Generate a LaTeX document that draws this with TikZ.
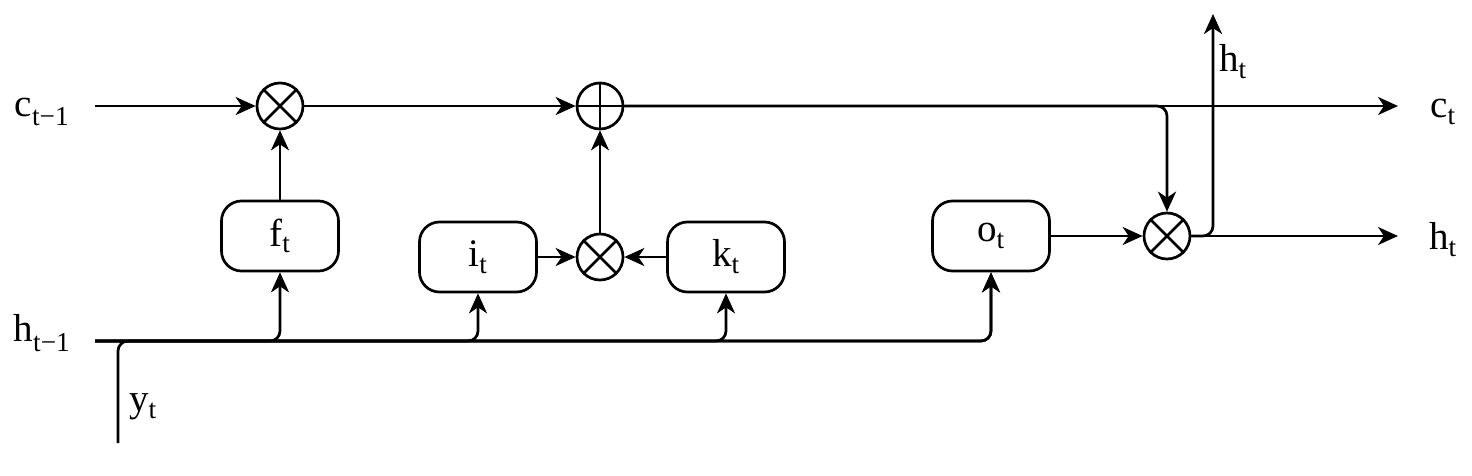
\documentclass[tikz,border=0pt]{standalone}
\usepackage{fontspec}
\setmainfont{Liberation Serif}
\newfontfamily\tnr{Liberation Serif}
\usetikzlibrary{arrows.meta}
\tikzset{
  x=1pt, y=-1pt,
  wire/.style={line width=2.7pt, rounded corners=10pt},
  arr/.style={wire, -{Stealth[length=20pt, width=18pt, inset=6pt]}},
  gate/.style={draw, line width=2.7pt, rounded corners=20pt, minimum width=117pt, minimum height=70pt, inner sep=0pt, font=\tnr\fontsize{39}{41}\selectfont},
  op/.style={draw, line width=2.7pt, circle, minimum size=46pt, inner sep=0pt},
  lbl/.style={inner sep=0pt, font=\tnr\fontsize{39}{41}\selectfont},
}
\newcommand{\otimessym}[1]{\draw[line width=2.7pt] (#1.north west) -- (#1.south east) (#1.north east) -- (#1.south west);}
\newcommand{\oplussym}[1]{\draw[line width=2.7pt] (#1.north) -- (#1.south) (#1.east) -- (#1.west);}
\begin{document}
\begin{tikzpicture}
\useasboundingbox (0,0) rectangle (1472,476);
% operators
\node[op] (m1) at (280,106) {};
\node[op] (pl) at (600,106) {};
\node[op] (m2) at (600,257) {};
\node[op] (m3) at (1167,236) {};
\otimessym{m1}
\oplussym{pl}
\otimessym{m2}
\otimessym{m3}
% gates
\node[gate] (f) at (280,236) {f\textsubscript{t}};
\node[gate] (i) at (478,257) {i\textsubscript{t}};
\node[gate] (k) at (726,257) {k\textsubscript{t}};
\node[gate] (o) at (991,236) {o\textsubscript{t}};
% labels
\node[lbl] (lc) at (42,112) {c\textsubscript{t−1}};
\node[lbl] (lh) at (42,333) {h\textsubscript{t−1}};
\node[lbl] (ly) at (143,407) {y\textsubscript{t}};
\node[lbl] (lct) at (1443,112) {c\textsubscript{t}};
\node[lbl] (lht) at (1443,240) {h\textsubscript{t}};
\node[lbl, anchor=west] (lhu) at (1219,62) {h\textsubscript{t}};
% coordinates
\coordinate (cin) at (95,106);
\coordinate (hin) at (95,341);
\coordinate (yin) at (118,443);
\coordinate (cout) at (1398,106);
\coordinate (hout) at (1398,236);
\coordinate (hup) at (1213,14);
\coordinate (jo) at (o.south |- hin);
% connectors
\draw[arr] (cin) -- (m1);
\draw[arr] (m1) -- (pl);
\draw[arr] (f) -- (m1);
\draw[arr] (i) -- (m2);
\draw[arr] (k) -- (m2);
\draw[arr] (m2) -- (pl);
\draw[arr] (pl) -- (cout);
\draw[arr] (pl.east) -| (m3.north);
\draw[arr] (o) -- (m3);
\draw[arr] (m3) -- (hout);
\draw[arr] (m3.east) -| (hup);
\draw[arr] (hin) -| (f.south);
\draw[arr] (hin) -| (i.south);
\draw[arr] (hin) -| (k.south);
\draw[arr] (hin) -| (o.south);
\draw[arr] (yin) |- (jo) -- (o.south);
\end{tikzpicture}
\end{document}
